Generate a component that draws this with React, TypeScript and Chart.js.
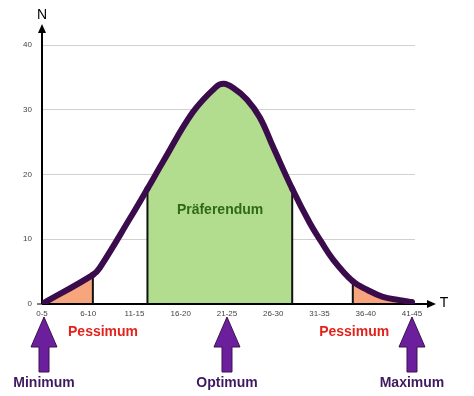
import React, { useEffect, useRef } from "react";
import { Chart, registerables } from "chart.js";
Chart.register(...registerables);

// Category labels on the T axis (temperature classes)
const tLabels = ["0-5", "6-10", "11-15", "16-20", "21-25", "26-30", "31-35", "36-40", "41-45"];
// Tolerance curve: position along the category axis and N value
const curveX = [0, 1.1, 1.25, 1.9, 2.28, 2.62, 3.26, 3.76, 3.93, 4.13, 4.43, 4.71, 5.0, 5.41, 5.79, 6.03, 6.29, 6.72, 7.03, 7.37, 7.74, 8.0];
const curveN = [0, 4.5, 5.6, 13.2, 17.8, 22, 29.6, 33.5, 34.0, 33.4, 31.6, 28.8, 24.2, 17.8, 12.5, 9.7, 6.9, 3.5, 2.2, 1.1, 0.6, 0.3];
// Indices of curve points that bound the shaded zones
const edgeIdx = [1, 4, 13, 17];
const yMin = 0;
const yMax = 40;
const yStep = 10;
// Zone labels
const zoneText = ["Pessimum", "Präferendum", "Pessimum"];
const zoneX = [1.32, 3.85, 6.75];
const zoneN = [-4.3, 14.5, -4.3];
// Marker arrows
const markerText = ["Minimum", "Optimum", "Maximum"];
const markerX = [0, 4, 8];

const FONT = "'Liberation Sans', Arial, Helvetica, sans-serif";
const PURPLE_LINE = "#3a0c4c";
const ORANGE = "#f6a57c";
const GREEN = "#b2dc8e";

export default function App() {
  const ref = useRef<HTMLCanvasElement | null>(null);

  useEffect(() => {
    if (!ref.current) return;
    const points = curveX.map((x, i) => ({ x, y: curveN[i] }));
    const edgeSets = edgeIdx.map((idx) => ({
      type: "line" as const,
      data: [
        { x: curveX[idx], y: 0 },
        { x: curveX[idx], y: curveN[idx] },
      ],
      borderColor: "#111",
      borderWidth: 2,
      pointRadius: 0,
      fill: false,
      order: 1,
    }));

    const deco = {
      id: "deco",
      beforeDatasetsDraw(chart: any) {
        const ctx = chart.ctx;
        const xs = chart.scales.x;
        const ys = chart.scales.y;
        const x0 = xs.getPixelForValue(0);
        const y0 = ys.getPixelForValue(0);
        const top = ys.getPixelForValue(yMax);
        ctx.save();
        ctx.strokeStyle = "#000";
        ctx.fillStyle = "#000";
        ctx.lineWidth = 2;
        // y axis
        ctx.beginPath();
        ctx.moveTo(x0, y0);
        ctx.lineTo(x0, top - 16);
        ctx.stroke();
        ctx.beginPath();
        ctx.moveTo(x0, top - 21);
        ctx.lineTo(x0 - 4, top - 12);
        ctx.lineTo(x0 + 4, top - 12);
        ctx.closePath();
        ctx.fill();
        // x axis
        const xr = chart.chartArea.right;
        ctx.beginPath();
        ctx.moveTo(x0, y0);
        ctx.lineTo(xr + 14, y0);
        ctx.stroke();
        ctx.beginPath();
        ctx.moveTo(xr + 21, y0);
        ctx.lineTo(xr + 12, y0 - 4);
        ctx.lineTo(xr + 12, y0 + 4);
        ctx.closePath();
        ctx.fill();
        // small tick at 0
        ctx.lineWidth = 1;
        ctx.beginPath();
        ctx.moveTo(x0 - 5, y0);
        ctx.lineTo(x0, y0);
        ctx.stroke();
        // axis names
        ctx.font = `14px ${FONT}`;
        ctx.textAlign = "center";
        ctx.textBaseline = "middle";
        ctx.fillText("N", x0, top - 30);
        ctx.fillText("T", xr + 29, y0 - 1);
        ctx.restore();
      },
      afterDatasetsDraw(chart: any) {
        const ctx = chart.ctx;
        const xs = chart.scales.x;
        const ys = chart.scales.y;
        const y0 = ys.getPixelForValue(0);
        ctx.save();
        ctx.font = `bold 14px ${FONT}`;
        ctx.textAlign = "center";
        ctx.textBaseline = "middle";
        zoneText.forEach((t, i) => {
          ctx.fillStyle = t === "Präferendum" ? "#2f6a14" : "#e3231b";
          ctx.fillText(t, xs.getPixelForValue(zoneX[i]), ys.getPixelForValue(zoneN[i]));
        });
        markerX.forEach((mx, i) => {
          const px = xs.getPixelForValue(mx) + (i === 0 ? 2 : 0);
          const tip = y0 + 13;
          const base = y0 + 43;
          const bottom = y0 + 68;
          ctx.beginPath();
          ctx.moveTo(px, tip);
          ctx.lineTo(px + 13, base);
          ctx.lineTo(px + 5, base);
          ctx.lineTo(px + 5, bottom);
          ctx.lineTo(px - 5, bottom);
          ctx.lineTo(px - 5, base);
          ctx.lineTo(px - 13, base);
          ctx.closePath();
          ctx.fillStyle = "#6c1f9c";
          ctx.fill();
          ctx.lineWidth = 1;
          ctx.strokeStyle = "#3d1152";
          ctx.stroke();
          ctx.fillStyle = "#3e1a5e";
          ctx.fillText(markerText[i], px, y0 + 79);
        });
        ctx.restore();
      },
    };

    const chart = new Chart(ref.current, {
      type: "line",
      data: {
        datasets: [
          {
            data: points,
            borderColor: PURPLE_LINE,
            borderWidth: 6,
            borderCapStyle: "round",
            borderJoinStyle: "round",
            pointRadius: 0,
            tension: 0.4,
            fill: "origin",
            backgroundColor: "rgba(0,0,0,0)",
            order: 0,
            segment: {
              backgroundColor: (c: any) => {
                const i = c.p0DataIndex;
                if (i < edgeIdx[0]) return ORANGE;
                if (i >= edgeIdx[1] && i < edgeIdx[2]) return GREEN;
                if (i >= edgeIdx[3]) return ORANGE;
                return "rgba(0,0,0,0)";
              },
            },
          } as any,
          ...edgeSets,
        ],
      },
      options: {
        responsive: false,
        animation: false,
        layout: { padding: { top: 45, right: 59, left: 0, bottom: 0 } },
        plugins: {
          legend: { display: false },
          tooltip: { enabled: false },
          filler: { drawTime: "beforeDatasetsDraw" },
        } as any,
        scales: {
          x: {
            type: "linear",
            min: 0,
            max: 8.065,
            grid: { display: false, drawTicks: false },
            border: { display: false },
            afterBuildTicks: (s: any) => {
              s.ticks = tLabels.map((_, i) => ({ value: i }));
            },
            afterFit: (s: any) => {
              s.height = 92;
            },
            ticks: {
              autoSkip: false,
              maxRotation: 0,
              padding: 5,
              color: "#444",
              font: { family: FONT, size: 8 },
              callback: (v: any) => tLabels[Math.round(Number(v))] ?? "",
            },
          },
          y: {
            type: "linear",
            min: yMin,
            max: yMax,
            grid: {
              drawTicks: false,
              color: (c: any) => (c.tick && c.tick.value === 0 ? "rgba(0,0,0,0)" : "#d0d0d0"),
              lineWidth: 1,
            },
            border: { display: false },
            afterFit: (s: any) => {
              s.width = 42;
            },
            ticks: {
              stepSize: yStep,
              padding: 10,
              color: "#444",
              font: { family: FONT, size: 8 },
            },
          },
        },
      },
      plugins: [deco],
    });
    return () => chart.destroy();
  }, []);

  return (
    <div style={{ position: "fixed", left: 0, top: 0, width: 474, height: 396, background: "#fff" }}>
      <canvas ref={ref} width={474} height={396} style={{ display: "block" }} />
    </div>
  );
}
